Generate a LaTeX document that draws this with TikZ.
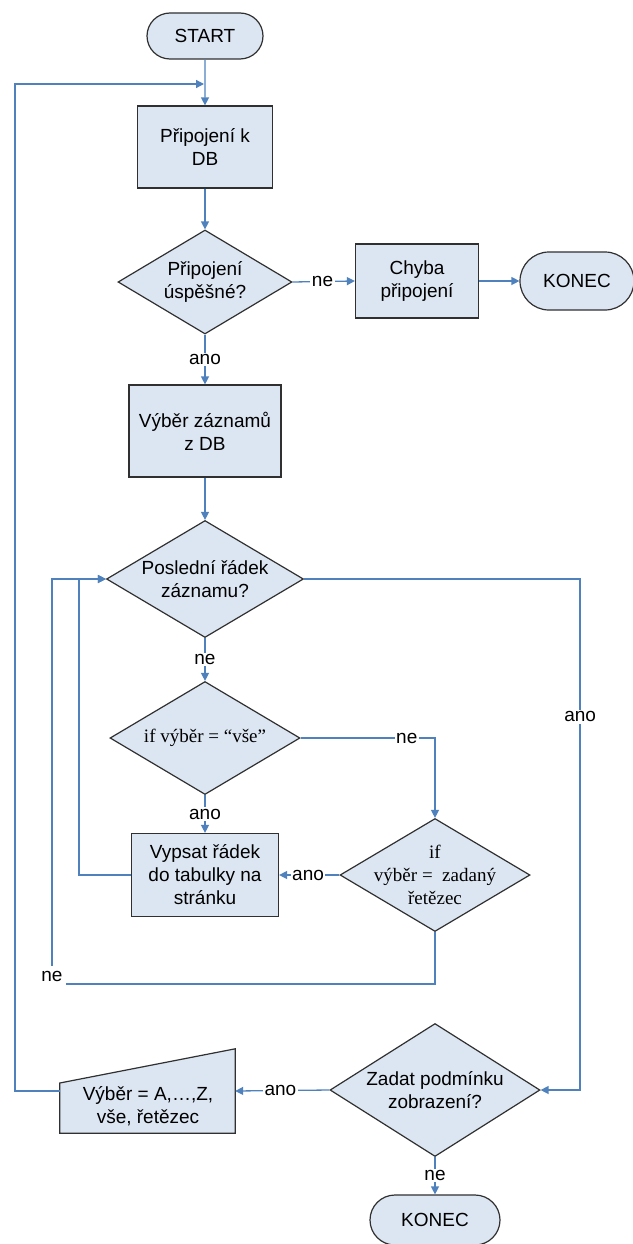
\documentclass[tikz,border=0pt]{standalone}
\usepackage{fontspec}
\setmainfont{Liberation Sans}
\newfontfamily\serifrm{Liberation Serif}
\usetikzlibrary{shapes.geometric,shapes.misc,arrows.meta}
\definecolor{boxfill}{HTML}{DCE6F2}
\definecolor{linkblue}{HTML}{4F81BD}
\definecolor{edgegray}{HTML}{303030}
\begin{document}
\begin{tikzpicture}[x=1pt,y=-1pt,
  every node/.style={font=\fontsize{19}{23}\selectfont},
  procbox/.style={rectangle, draw=edgegray, line width=1.2pt, fill=boxfill, align=center, inner sep=0pt},
  term/.style={rounded rectangle, draw=edgegray, line width=1.2pt, fill=boxfill, inner sep=0pt},
  decision/.style={diamond, draw=edgegray, line width=1.2pt, fill=boxfill, inner sep=0pt},
  dtext/.style={align=center, inner sep=0pt},
  conn/.style={draw=linkblue, line width=1.3pt, -{Triangle[width=8pt,length=8pt]}},
  lbl/.style={fill=white, inner sep=1.5pt}]
\useasboundingbox (0,0) rectangle (632,1244);

% nodes
\node[term, minimum width=116pt, minimum height=46pt] (start) at (205,36) {START};
\node[procbox, minimum width=135pt, minimum height=82pt] (b1) at (205,147) {Připojení k\\DB};
\node[decision, minimum width=174pt, minimum height=104pt] (d1) at (205,282) {};
\node[dtext] (d1t) at (d1) {Připojení\\úspěšné?};
\node[procbox, minimum width=123pt, minimum height=74pt] (chyba) at (417,281) {Chyba\\připojení};
\node[term, minimum width=114pt, minimum height=58pt] (konec1) at (577,281) {KONEC};
\node[procbox, minimum width=152pt, minimum height=92pt] (b2) at (205,431) {Výběr záznamů\\z DB};
\node[decision, minimum width=197pt, minimum height=117pt] (d2) at (205,579) {};
\node[dtext] (d2t) at (d2) {Poslední řádek\\záznamu?};
\node[decision, minimum width=190pt, minimum height=113pt] (d3) at (205,738) {};
\node[dtext, font=\serifrm\fontsize{19}{23}\selectfont] (d3t) at (d3) {if výběr = “vše”};
\node[procbox, minimum width=147pt, minimum height=83pt] (vypsat) at (205,875) {Vypsat řádek\\do tabulky na\\stránku};
\node[decision, minimum width=190pt, minimum height=113pt] (d4) at (435,875) {};
\node[dtext, font=\serifrm\fontsize{19}{23}\selectfont] (d4t) at (d4) {if\\výběr =\ \ zadaný\\řetězec};
\node[decision, minimum width=210pt, minimum height=133pt] (d5) at (435,1090) {};
\node[dtext] (d5t) at (d5) {Zadat podmínku\\zobrazení?};
\node[term, minimum width=130pt, minimum height=50pt] (konec2) at (435,1220) {KONEC};
\node[minimum width=175pt, minimum height=84pt, inner sep=0pt] (vyber) at (147.5,1091) {};
\draw[draw=edgegray, line width=1.2pt, fill=boxfill]
  (vyber.south west) -- (vyber.south east) -- (vyber.north east) -- ([yshift=8pt]vyber.west) -- cycle;
\node[dtext] (vybert) at (148,1106) {Výběr = A,…,Z,\\vše, řetězec};

% connectors
\coordinate (lcorner) at (15,84);
\coordinate (loopin) at (204,84);
\coordinate (necorner) at (52,984);
\draw[conn] (start) -- (b1);
\draw[conn] (vyber.west) -| (lcorner) -- (loopin);
\draw[conn] (b1) -- (d1);
\draw[conn] (d1.east) -- node[lbl, pos=0.48]{ne} (chyba.west);
\draw[conn] (chyba) -- (konec1);
\draw[conn] (d1.south) -- node[lbl]{ano} (b2.north);
\draw[conn] (b2) -- (d2);
\draw[conn] (d2.south) -- node[lbl]{ne} (d3.north);
\draw[conn] (d3.east) -- node[lbl, pos=0.79]{ne} (d3.east -| d4.north) -- (d4.north);
\draw[conn] (d3.south) -- node[lbl]{ano} (vypsat.north);
\draw[conn] (d4.west) -- node[lbl, pos=0.52]{ano} (vypsat.east);
\draw[conn] (vypsat.west) -- ++(-52,0) |- (d2.west);
\draw[conn] (d4.south) |- (necorner) |- (d2.west);
\node[lbl, inner xsep=3pt, inner ysep=5pt] (nelbl) at (52,976) {ne};
\draw[conn] (d2.east) -- ++(276,0) |- node[lbl, pos=0.135]{ano} (d5.east);
\draw[conn] (d5.west) -- node[lbl, pos=0.52]{ano} (vyber.east);
\draw[conn] (d5.south) -- node[lbl]{ne} (konec2.north);
\end{tikzpicture}
\end{document}
